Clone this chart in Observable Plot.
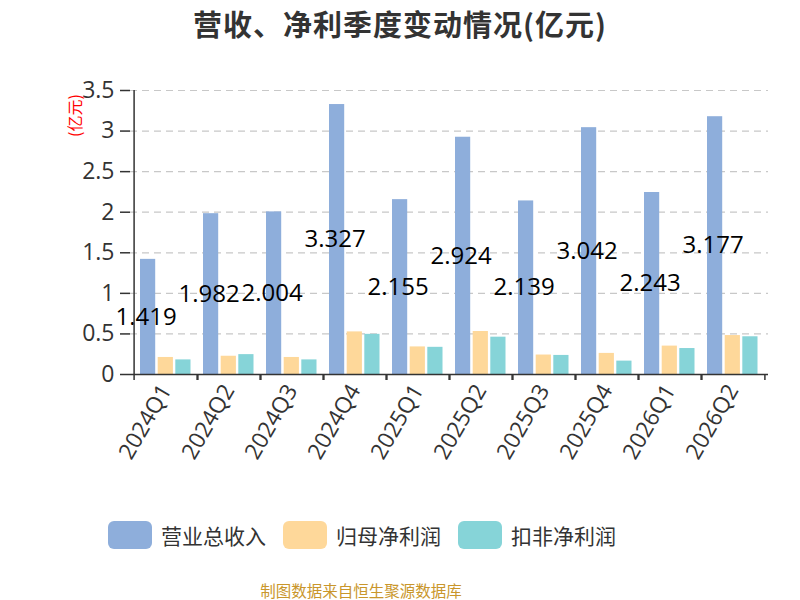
<!DOCTYPE html>
<html><head><meta charset="utf-8">
<script src="https://cdn.jsdelivr.net/npm/d3@7"></script>
<script src="https://cdn.jsdelivr.net/npm/@observablehq/plot@0.6"></script>
<style>
body{margin:0;background:#fff;font-family:"Noto Sans CJK SC","Noto Sans",sans-serif;width:800px;height:600px;overflow:hidden;}
#title{height:46px;line-height:46px;text-align:center;font-size:29px;font-weight:bold;color:#333;letter-spacing:1px;}
#chart{height:458px;}
#legend{height:62px;display:flex;align-items:center;padding-left:108px;}
.item{display:flex;align-items:center;margin-right:17px;}
.sw{width:44px;height:28px;border-radius:6px;margin-right:9px;}
.lab{font-size:21px;color:#333;}
#caption{height:48px;line-height:48px;font-size:15.5px;color:#c9962b;width:722px;text-align:center;}
</style></head><body>
<div id="title">营收、净利季度变动情况(亿元)</div>
<div id="chart"></div>
<div id="legend"></div>
<div id="caption">制图数据来自恒生聚源数据库</div>
<script>
const quarters = ["2024Q1","2024Q2","2024Q3","2024Q4","2025Q1","2025Q2","2025Q3","2025Q4","2026Q1","2026Q2"];
const revenue = [1.419,1.982,2.004,3.327,2.155,2.924,2.139,3.042,2.243,3.177];
const netProfit = [0.21,0.225,0.21,0.525,0.34,0.53,0.24,0.26,0.35,0.48];
const deductedProfit = [0.18,0.245,0.18,0.495,0.335,0.46,0.235,0.165,0.32,0.465];
const seriesNames = ["营业总收入","归母净利润","扣非净利润"];
const colors = ["#8EAEDB","#FED89A","#86D4D8"];
const yTicks = [0,0.5,1,1.5,2,2.5,3,3.5];
const yLabel = "(亿元)";

const rows = quarters.map((q,i)=>({q, rev: revenue[i], np: netProfit[i], dp: deductedProfit[i]}));
const bw = 638/quarters.length;
const half = bw/2;
const numFont = '"Open Sans","Noto Sans CJK SC",sans-serif';

const chart = Plot.plot({
  width: 800, height: 458,
  marginLeft: 130, marginRight: 32, marginTop: 44, marginBottom: 130,
  style: {fontFamily: numFont, background: "#fff"},
  x: {type: "band", domain: quarters, padding: 0},
  y: {domain: [0, 3.5]},
  marks: [
    Plot.gridY(yTicks.slice(1), {stroke: "#c8c8c8", strokeOpacity: 1, strokeDasharray: "7,5", strokeWidth: 1.2}),
    Plot.barY(rows, {x: "q", y: "rev", fill: colors[0], insetLeft: 6, insetRight: bw-22}),
    Plot.barY(rows, {x: "q", y: "np", fill: colors[1], insetLeft: 23.7, insetRight: bw-39.7}),
    Plot.barY(rows, {x: "q", y: "dp", fill: colors[2], insetLeft: 41.3, insetRight: bw-57.3}),
    Plot.text(rows, {x: "q", y: d => d.rev/2, text: d => String(d.rev), dx: 12-half, fontSize: 24, fill: "#000"}),
    Plot.ruleY([0], {stroke: "#333", strokeWidth: 1.5}),
    Plot.ruleX([quarters[0]], {y1: 0, y2: 3.5, dx: -half, stroke: "#333", strokeWidth: 1.5}),
    Plot.axisX({tickSize: 6, tickFormat: () => "", dx: -half, stroke: "#333", strokeWidth: 1.5, label: null}),
    Plot.axisX({tickSize: 6, tickFormat: () => "", dx: half, stroke: "#333", strokeWidth: 1.5, label: null}),
    Plot.axisX({tickSize: 0, tickPadding: 12, tickRotate: -60, fontSize: 22.5, fill: "#333", label: null}),
    Plot.axisY({ticks: yTicks, tickSize: 10, tickPadding: 6, fontSize: 23, fill: "#333", stroke: "#333", strokeWidth: 1.5, tickFormat: d => String(d), label: null}),
    Plot.text([yLabel], {frameAnchor: "top-left", dx: -61, dy: 25, rotate: -90, textAnchor: "middle", fill: "red", fontSize: 16, fontFamily: '"Noto Sans CJK SC",sans-serif'})
  ]
});
document.getElementById("chart").appendChild(chart);

const legend = document.getElementById("legend");
seriesNames.forEach((n,i)=>{
  const it = document.createElement("div"); it.className = "item";
  const sw = document.createElement("div"); sw.className = "sw"; sw.style.background = colors[i];
  const lb = document.createElement("span"); lb.className = "lab"; lb.textContent = n;
  it.appendChild(sw); it.appendChild(lb); legend.appendChild(it);
});
</script>
</body></html>
